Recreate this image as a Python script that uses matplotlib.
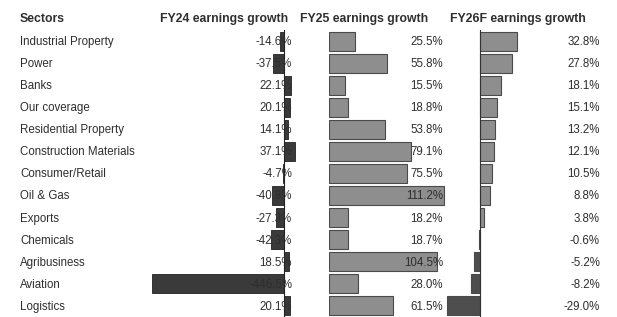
import matplotlib
matplotlib.use("Agg")
import matplotlib.pyplot as plt

plt.rcParams["font.family"] = ["Liberation Sans", "DejaVu Sans"]

sectors = ["Industrial Property", "Power", "Banks", "Our coverage", "Residential Property",
           "Construction Materials", "Consumer/Retail", "Oil & Gas", "Exports", "Chemicals",
           "Agribusiness", "Aviation", "Logistics"]
fy24 = [-14.6, -37.5, 22.1, 20.1, 14.1, 37.1, -4.7, -40.8, -27.3, -42.3, 18.5, -446.5, 20.1]
fy25 = [25.5, 55.8, 15.5, 18.8, 53.8, 79.1, 75.5, 111.2, 18.2, 18.7, 104.5, 28.0, 61.5]
fy26 = [32.8, 27.8, 18.1, 15.1, 13.2, 12.1, 10.5, 8.8, 3.8, -0.6, -5.2, -8.2, -29.0]
headers = ["Sectors", "FY24 earnings growth", "FY25 earnings growth", "FY26F earnings growth"]

W, H = 617, 317
fig = plt.figure(figsize=(W / 100, H / 100), dpi=100)
fig.patch.set_facecolor("white")

n = len(sectors)
top_px, bot_px = 30, 317
y0 = 1 - bot_px / H
hh = (bot_px - top_px) / H
rows = list(range(n))
txt = "#2e2e2e"
fs = 8.3

def make_ax(x0, x1, xlim):
    ax = fig.add_axes([x0 / W, y0, (x1 - x0) / W, hh])
    ax.set_xlim(*xlim)
    ax.set_ylim(n - 0.5, -0.5)
    ax.axis("off")
    return ax

# FY24
ax1 = make_ax(150, 296, (-452.7, 40.5))
ax1.barh(rows, fy24, height=0.86, color="#3a3a3a", edgecolor="#222222", linewidth=0.6, zorder=1)
ax1.axvline(0, color="#222222", lw=0.8, zorder=2)

# FY25
ax2 = make_ax(329, 447, (0, 114.1))
ax2.barh(rows, fy25, height=0.86, color="#8e8e8e", edgecolor="#4a4a4a", linewidth=0.8, zorder=1)

# FY26F
ax3 = make_ax(446, 605, (-29.9, 109.8))
c3 = ["#8e8e8e" if v >= 0 else "#4e4e4e" for v in fy26]
ax3.barh(rows, fy26, height=0.86, color=c3, edgecolor="#4a4a4a", linewidth=0.8, zorder=1)
ax3.axvline(0, color="#333333", lw=0.8, zorder=2)

# text layer
axt = fig.add_axes([0, y0, 1, hh])
axt.set_xlim(0, W)
axt.set_ylim(n - 0.5, -0.5)
axt.axis("off")
axt.set_zorder(5)
axt.patch.set_alpha(0)

for i in rows:
    axt.text(20, i + 0.04, sectors[i], ha="left", va="center", fontsize=fs, color=txt)
    axt.text(292, i + 0.04, f"{fy24[i]:.1f}%", ha="right", va="center", fontsize=fs, color=txt)
    axt.text(443, i + 0.04, f"{fy25[i]:.1f}%", ha="right", va="center", fontsize=fs, color=txt)
    axt.text(600, i + 0.04, f"{fy26[i]:.1f}%", ha="right", va="center", fontsize=fs, color=txt)

hy = 1 - 19 / H
hfs = 8.8
fig.text(20 / W, hy, headers[0], ha="left", va="center", fontsize=hfs, fontweight="bold", color=txt)
fig.text(288 / W, hy, headers[1], ha="right", va="center", fontsize=hfs, fontweight="bold", color=txt)
fig.text(300 / W, hy, headers[2], ha="left", va="center", fontsize=hfs, fontweight="bold", color=txt)
fig.text(450 / W, hy, headers[3], ha="left", va="center", fontsize=hfs, fontweight="bold", color=txt)

fig.savefig("out.png", dpi=100, facecolor="white")
